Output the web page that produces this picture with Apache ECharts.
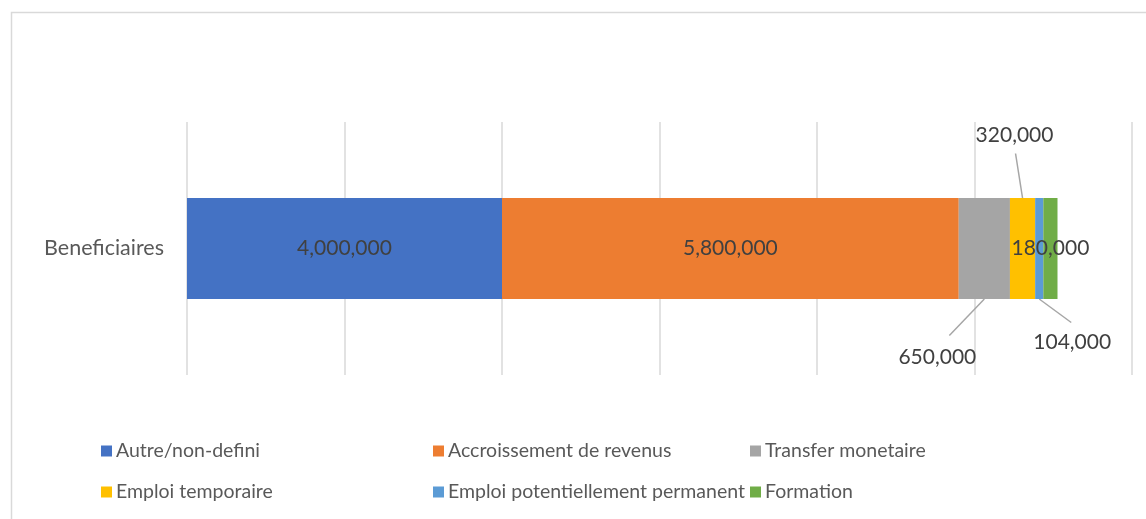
<!DOCTYPE html>
<html>
<head>
<meta charset="utf-8">
<script src="https://cdn.jsdelivr.net/npm/echarts@6/dist/echarts.min.js"></script>
<style>
  html, body { margin: 0; padding: 0; background: #fff; }
  #chart { width: 1146px; height: 519px; }
</style>
</head>
<body>
<div id="chart"></div>
<script>
// Beneficiaries by type of intervention (single stacked bar)
const categories = ['Beneficiaires'];
const seriesNames = [
  'Autre/non-defini',
  'Accroissement de revenus',
  'Transfer monetaire',
  'Emploi temporaire',
  'Emploi potentiellement permanent',
  'Formation'
];
const autreValues = [4000000];
const accroissementValues = [5800000];
const transferValues = [650000];
const temporaireValues = [320000];
const permanentValues = [104000];
const formationValues = [180000];

const seriesValues = [autreValues, accroissementValues, transferValues, temporaireValues, permanentValues, formationValues];
const colors = ['#4472C4', '#ED7D31', '#A5A5A5', '#FFC000', '#5B9BD5', '#70AD47'];

// callout labels for the thin segments: label offset from the segment centre,
// which bar edge the leader line leaves from, and where it stops near the label
const callouts = [
  null,
  null,
  { dx: -47, dy: 109, edge: 1, end: [12, -22] },
  { dx: -8, dy: -113, edge: -1, end: [1, 18] },
  { dx: 33, dy: 94, edge: 1, end: [-1, -20] },
  null
];

const BAR_WIDTH = 101;
const fmt = v => v.toLocaleString('en-US');
const FONT = 'Lato, "Open Sans", sans-serif';

const series = seriesNames.map((name, i) => {
  const s = {
    name: name,
    type: 'bar',
    stack: 'total',
    barWidth: BAR_WIDTH,
    data: seriesValues[i],
    itemStyle: { color: colors[i] },
    label: {
      show: true,
      position: 'inside',
      color: '#404040',
      fontFamily: FONT,
      fontSize: 21,
      formatter: p => fmt(p.value)
    },
    emphasis: { disabled: true }
  };
  if (callouts[i]) {
    s.labelLayout = { dx: callouts[i].dx, dy: callouts[i].dy };
  }
  return s;
});

// legend laid out in a fixed 3-column grid
const legendCols = [101, 433, 750];
const legendRows = [441, 482];
const legends = seriesNames.map((name, i) => ({
  data: [name],
  left: legendCols[i % 3],
  top: legendRows[Math.floor(i / 3)],
  padding: 0,
  icon: 'rect',
  itemWidth: 11,
  itemHeight: 11,
  itemGap: 0,
  selectedMode: false,
  textStyle: { color: '#595959', fontFamily: FONT, fontSize: 19.5, padding: [0, 0, 0, -1] }
}));

const chart = echarts.init(document.getElementById('chart'), null, { renderer: 'canvas' });
const border = {
  type: 'rect',
  shape: { x: 11.5, y: 12.5, width: 1200, height: 600 },
  style: { fill: 'none', stroke: '#D9D9D9', lineWidth: 1.5 },
  silent: true
};
chart.setOption({
  animation: false,
  color: colors,
  graphic: [border],
  grid: { left: 187, right: 14, top: 122, height: 253 },
  xAxis: {
    type: 'value',
    min: 0,
    max: 12000000,
    interval: 2000000,
    axisLabel: { show: false },
    axisLine: { show: false },
    axisTick: { show: false },
    splitLine: { show: true, lineStyle: { color: '#D9D9D9', width: 1.5 } }
  },
  yAxis: {
    type: 'category',
    data: categories,
    axisLine: { show: false },
    axisTick: { show: false },
    axisLabel: { color: '#595959', fontFamily: FONT, fontSize: 21.5, margin: 23 }
  },
  legend: legends,
  series: series
});

// leader lines from the thin segments to their callout labels, placed with the axis scales
const leaders = [];
let cumulative = 0;
seriesValues.forEach((vals, i) => {
  const v = vals[0];
  const c = callouts[i];
  if (c) {
    const centre = chart.convertToPixel({ gridIndex: 0 }, [cumulative + v / 2, categories[0]]);
    const x1 = centre[0];
    const y1 = centre[1] + c.edge * BAR_WIDTH / 2;
    const x2 = centre[0] + c.dx + c.end[0];
    const y2 = centre[1] + c.dy + c.end[1];
    leaders.push({
      type: 'line',
      shape: { x1: x1, y1: y1, x2: x2, y2: y2 },
      style: { stroke: '#A6A6A6', lineWidth: 1.5 },
      silent: true
    });
  }
  cumulative += v;
});
chart.setOption({ graphic: [border].concat(leaders) }, { replaceMerge: ['graphic'] });
</script>
</body>
</html>
